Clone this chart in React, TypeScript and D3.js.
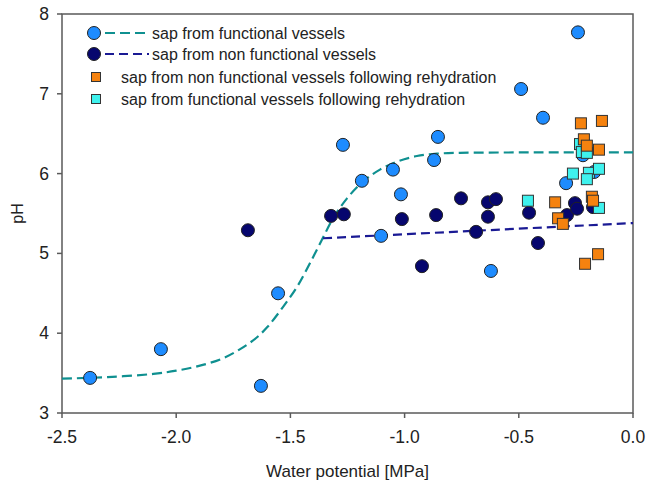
import React from "react";
import * as d3 from "d3";

// light blue circles: sap from functional vessels
const funcX = [-2.377, -2.067, -1.629, -1.554, -1.27, -1.187, -1.103, -1.051, -1.016, -0.854, -0.871, -0.622, -0.49, -0.394, -0.293, -0.241, -0.219, -0.17];
const funcY = [3.44, 3.8, 3.34, 4.5, 6.36, 5.91, 5.22, 6.05, 5.74, 6.46, 6.17, 4.78, 7.06, 6.7, 5.88, 7.77, 6.23, 6.02];

// navy circles: sap from non functional vessels
const nonFuncX = [-1.686, -1.322, -1.266, -1.012, -0.862, -0.753, -0.635, -0.6, -0.635, -0.687, -0.924, -0.455, -0.416, -0.289, -0.254, -0.245, -0.175];
const nonFuncY = [5.29, 5.47, 5.49, 5.43, 5.48, 5.69, 5.64, 5.68, 5.46, 5.27, 4.84, 5.51, 5.13, 5.48, 5.63, 5.56, 5.58];

// orange squares: non functional following rehydration
const nonFuncRehX = [-0.228, -0.136, -0.215, -0.202, -0.149, -0.341, -0.18, -0.175, -0.328, -0.307, -0.153, -0.21];
const nonFuncRehY = [6.63, 6.66, 6.43, 6.35, 6.3, 5.64, 5.71, 5.66, 5.44, 5.37, 4.99, 4.87];

// cyan squares: functional following rehydration
const funcRehX = [-0.46, -0.232, -0.224, -0.202, -0.263, -0.193, -0.202, -0.149, -0.149];
const funcRehY = [5.66, 6.37, 6.27, 6.26, 6.0, 6.01, 5.93, 6.06, 5.57];

// fitted curves
const funcFitX = [-2.5, -2.3, -2.1, -2.0, -1.9, -1.8, -1.72, -1.65, -1.6, -1.532, -1.471, -1.414, -1.362, -1.313, -1.252, -1.182, -1.108, -1.033, -0.946, -0.858, -0.758, -0.5, 0];
const funcFitY = [3.43, 3.45, 3.49, 3.53, 3.59, 3.68, 3.8, 3.94, 4.08, 4.33, 4.58, 4.88, 5.17, 5.44, 5.69, 5.9, 6.05, 6.15, 6.22, 6.25, 6.26, 6.265, 6.265];
const nonFuncFitX = [-1.357, 0];
const nonFuncFitY = [5.19, 5.38];

const xTicks = [-2.5, -2.0, -1.5, -1.0, -0.5, 0.0];
const yTicks = [3, 4, 5, 6, 7, 8];

const legendLabels = [
  "sap from functional vessels",
  "sap from non functional vessels",
  "sap from non functional vessels following rehydration",
  "sap from functional vessels following rehydration",
];

const C_FUNC = "#1e8cff";
const C_NONFUNC = "#06066e";
const C_ORANGE = "#f5820f";
const C_CYAN = "#3ff2ee";
const C_TEAL = "#0f9090";
const C_NAVYLINE = "#1a1a94";
const FONT = "Liberation Sans, Arial, sans-serif";

const W = 647, H = 482;
const margin = { top: 14, right: 14, bottom: 69, left: 62 };

export default function App() {
  const x = d3.scaleLinear().domain([-2.5, 0]).range([margin.left, W - margin.right]);
  const y = d3.scaleLinear().domain([3, 8]).range([H - margin.bottom, margin.top]);

  const pts = (xs: number[], ys: number[]) => xs.map((v, i) => [v, ys[i]] as [number, number]);
  const line = d3.line<[number, number]>().x(d => x(d[0])).y(d => y(d[1])).curve(d3.curveCatmullRom.alpha(0.5));

  const r = 6.5;
  const s = 11;

  const legendY = [33, 54, 77, 99];

  return (
    <svg width={W} height={H} style={{ position: "absolute", left: 0, top: 0, background: "white" }} fontFamily={FONT}>
      {/* frame */}
      <rect x={x(-2.5)} y={y(8)} width={x(0) - x(-2.5)} height={y(3) - y(8)} fill="none" stroke="#5a5a5a" strokeWidth={1.5} />
      {xTicks.map(t => (
        <g key={"x" + t}>
          <line x1={x(t)} x2={x(t)} y1={y(3)} y2={y(3) + 5} stroke="#5a5a5a" strokeWidth={1.5} />
          <text x={x(t)} y={y(3) + 30} textAnchor="middle" fontSize={17.5} fill="#222">{t.toFixed(1)}</text>
        </g>
      ))}
      {yTicks.map(t => (
        <g key={"y" + t}>
          <line x1={x(-2.5) - 5} x2={x(-2.5)} y1={y(t)} y2={y(t)} stroke="#5a5a5a" strokeWidth={1.5} />
          <text x={x(-2.5) - 13} y={y(t) + 6} textAnchor="end" fontSize={17.5} fill="#222">{t}</text>
        </g>
      ))}
      <text x={(x(-2.5) + x(0)) / 2} y={477} textAnchor="middle" fontSize={17} fill="#222">Water potential [MPa]</text>
      <text transform={`translate(23,${(y(3) + y(8)) / 2}) rotate(-90)`} textAnchor="middle" fontSize={16} fill="#222">pH</text>

      {/* fits */}
      <path d={line(pts(funcFitX, funcFitY)) ?? ""} fill="none" stroke={C_TEAL} strokeWidth={2.2} strokeDasharray="10,5" />
      <path d={line(pts(nonFuncFitX, nonFuncFitY)) ?? ""} fill="none" stroke={C_NAVYLINE} strokeWidth={2.2} strokeDasharray="9,5" />

      {/* points */}
      {pts(funcX, funcY).map((d, i) => (
        <circle key={"f" + i} cx={x(d[0])} cy={y(d[1])} r={r} fill={C_FUNC} stroke="#222" strokeWidth={1} />
      ))}
      {pts(nonFuncX, nonFuncY).map((d, i) => (
        <circle key={"n" + i} cx={x(d[0])} cy={y(d[1])} r={r} fill={C_NONFUNC} stroke="#222" strokeWidth={1} />
      ))}
      {pts(funcRehX, funcRehY).map((d, i) => (
        <rect key={"c" + i} x={x(d[0]) - s / 2} y={y(d[1]) - s / 2} width={s} height={s} fill={C_CYAN} stroke="#333" strokeWidth={1} />
      ))}
      {pts(nonFuncRehX, nonFuncRehY).map((d, i) => (
        <rect key={"o" + i} x={x(d[0]) - s / 2} y={y(d[1]) - s / 2} width={s} height={s} fill={C_ORANGE} stroke="#333" strokeWidth={1} />
      ))}

      {/* legend */}
      <g>
        <circle cx={94} cy={legendY[0]} r={r} fill={C_FUNC} stroke="#222" strokeWidth={1} />
        <line x1={105} x2={149} y1={legendY[0]} y2={legendY[0]} stroke={C_TEAL} strokeWidth={2.2} strokeDasharray="10,5" />
        <text x={152} y={legendY[0] + 5.5} fontSize={16} fill="#222">{legendLabels[0]}</text>
        <circle cx={94} cy={legendY[1]} r={r} fill={C_NONFUNC} stroke="#222" strokeWidth={1} />
        <line x1={105} x2={149} y1={legendY[1]} y2={legendY[1]} stroke={C_NAVYLINE} strokeWidth={2.2} strokeDasharray="9,5" />
        <text x={152} y={legendY[1] + 5.5} fontSize={16} fill="#222">{legendLabels[1]}</text>
        <rect x={96 - 4.5} y={legendY[2] - 4.5} width={9} height={9} fill={C_ORANGE} stroke="#333" strokeWidth={1} />
        <text x={121} y={legendY[2] + 5.5} fontSize={16} fill="#222">{legendLabels[2]}</text>
        <rect x={96 - 4.5} y={legendY[3] - 4.5} width={9} height={9} fill={C_CYAN} stroke="#333" strokeWidth={1} />
        <text x={121} y={legendY[3] + 5.5} fontSize={16} fill="#222">{legendLabels[3]}</text>
      </g>
    </svg>
  );
}
